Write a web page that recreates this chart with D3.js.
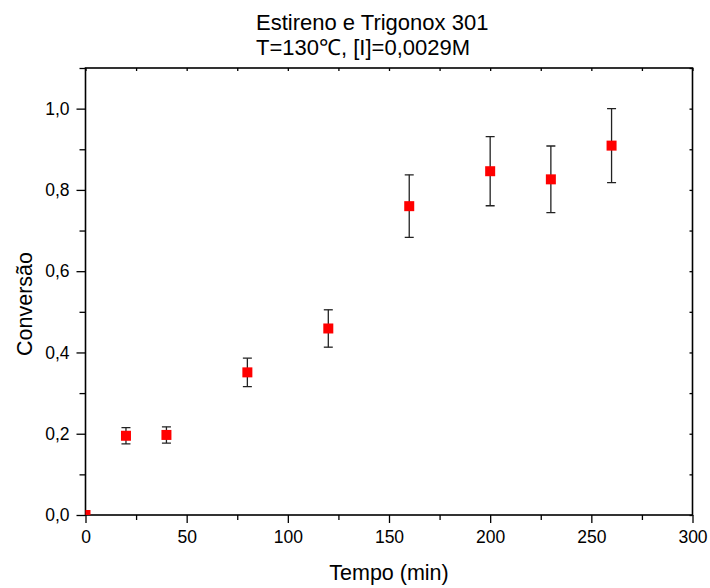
<!DOCTYPE html>
<html>
<head>
<meta charset="utf-8">
<script src="https://cdn.jsdelivr.net/npm/d3@7"></script>
<style>
  html, body { margin: 0; padding: 0; background: #fff; }
  svg { display: block; font-family: "Liberation Sans", Arial, sans-serif; }
</style>
</head>
<body>
<svg id="chart" width="710" height="588"></svg>
<script>
const times = [0, 20, 40, 80, 120, 160, 200, 230, 260];
const conversion = [0, 0.195, 0.197, 0.351, 0.459, 0.760, 0.846, 0.826, 0.909];
const errors = [0, 0.020, 0.020, 0.035, 0.046, 0.077, 0.085, 0.082, 0.091];
const xTicks = [0, 50, 100, 150, 200, 250, 300];
const yTicks = [0.0, 0.2, 0.4, 0.6, 0.8, 1.0];
const titleLines = ["Estireno e Trigonox 301", "T=130\u2103, [I]=0,0029M"];
const xLabel = "Tempo (min)";
const yLabel = "Convers\u00e3o";

(function () {
const svg = d3.select("#chart");
const pL = 85.5, pR = 692.5, pT = 68, pB = 515;
const FF = "Liberation Sans, Arial, sans-serif";

const x = d3.scaleLinear().domain([0, 300]).range([pL, pR]);
const y = d3.scaleLinear().domain([0, 1.1]).range([pB, pT]);

const fmt = d => d3.format(".1f")(d).replace(".", ",");

svg.append("defs").append("clipPath").attr("id", "clip")
  .append("rect").attr("x", pL).attr("y", pT).attr("width", pR - pL).attr("height", pB - pT);

// Bottom axis
const xMinor = d3.range(0, 301, 25).filter(v => v % 50 !== 0);
const gx = svg.append("g").attr("transform", `translate(0,${pB})`)
  .call(d3.axisBottom(x).tickValues(xTicks).tickSize(8).tickPadding(8).tickFormat(d3.format("d")));
gx.select(".domain").remove();
gx.selectAll("text").attr("font-size", 17.5).attr("fill", "#000").attr("font-family", FF);
gx.selectAll("line").attr("stroke", "#000").attr("stroke-width", 1.3);
svg.append("g").attr("transform", `translate(0,${pB})`)
  .call(d3.axisBottom(x).tickValues(xMinor).tickSize(5).tickFormat(""))
  .call(g => g.select(".domain").remove())
  .selectAll("line").attr("stroke", "#000").attr("stroke-width", 1.3);

// Left axis
const yMinor = d3.range(0.1, 1.11, 0.2);
const gy = svg.append("g").attr("transform", `translate(${pL},0)`)
  .call(d3.axisLeft(y).tickValues(yTicks).tickSize(9).tickPadding(7).tickFormat(fmt));
gy.select(".domain").remove();
gy.selectAll("text").attr("font-size", 17.5).attr("fill", "#000").attr("font-family", FF);
gy.selectAll("line").attr("stroke", "#000").attr("stroke-width", 1.3);
svg.append("g").attr("transform", `translate(${pL},0)`)
  .call(d3.axisLeft(y).tickValues(yMinor).tickSize(6).tickFormat(""))
  .call(g => g.select(".domain").remove())
  .selectAll("line").attr("stroke", "#000").attr("stroke-width", 1.3);

// Top axis (inward ticks)
svg.append("g").attr("transform", `translate(0,${pT})`)
  .call(d3.axisTop(x).tickValues(d3.range(0, 301, 25)).tickSize(-3).tickFormat(""))
  .call(g => g.select(".domain").remove())
  .selectAll("line").attr("stroke", "#000").attr("stroke-width", 1.3);
// Right axis (inward ticks)
svg.append("g").attr("transform", `translate(${pR},0)`)
  .call(d3.axisRight(y).tickValues(d3.range(0, 1.11, 0.1)).tickSize(-3).tickFormat(""))
  .call(g => g.select(".domain").remove())
  .selectAll("line").attr("stroke", "#000").attr("stroke-width", 1.3);

// Frame
svg.append("rect").attr("x", pL).attr("y", pT).attr("width", pR - pL).attr("height", pB - pT)
  .attr("fill", "none").attr("stroke", "#000").attr("stroke-width", 1.6);

// Data
const data = times.map((t, i) => ({ t, v: conversion[i], e: errors[i] }));
const plot = svg.append("g").attr("clip-path", "url(#clip)");
const eb = plot.selectAll("g.eb").data(data.filter(d => d.e > 0)).join("g").attr("class", "eb")
  .attr("stroke", "#222").attr("stroke-width", 1.3);
eb.append("line").attr("x1", d => x(d.t)).attr("x2", d => x(d.t)).attr("y1", d => y(d.v + d.e)).attr("y2", d => y(d.v - d.e));
eb.append("line").attr("x1", d => x(d.t) - 4.5).attr("x2", d => x(d.t) + 4.5).attr("y1", d => y(d.v + d.e)).attr("y2", d => y(d.v + d.e));
eb.append("line").attr("x1", d => x(d.t) - 4.5).attr("x2", d => x(d.t) + 4.5).attr("y1", d => y(d.v - d.e)).attr("y2", d => y(d.v - d.e));
const ms = 10;
plot.selectAll("rect.pt").data(data).join("rect").attr("class", "pt")
  .attr("x", d => x(d.t) - ms / 2).attr("y", d => y(d.v) - ms / 2)
  .attr("width", ms).attr("height", ms).attr("fill", "#ff0000");

// Title
svg.append("text").attr("x", 256).attr("y", 30).attr("text-anchor", "start")
  .attr("font-size", 22).attr("fill", "#000").text(titleLines[0]);
svg.append("text").attr("x", 256).attr("y", 55).attr("text-anchor", "start")
  .attr("font-size", 22).attr("fill", "#000").text(titleLines[1]);

// Axis labels
svg.append("text").attr("x", (pL + pR) / 2).attr("y", 580).attr("text-anchor", "middle")
  .attr("font-size", 21.5).attr("fill", "#000").text(xLabel);
svg.append("text").attr("transform", `translate(32,304) rotate(-90)`)
  .attr("text-anchor", "middle").attr("font-size", 21.5).attr("fill", "#000").text(yLabel);
})();
</script>
</body>
</html>
